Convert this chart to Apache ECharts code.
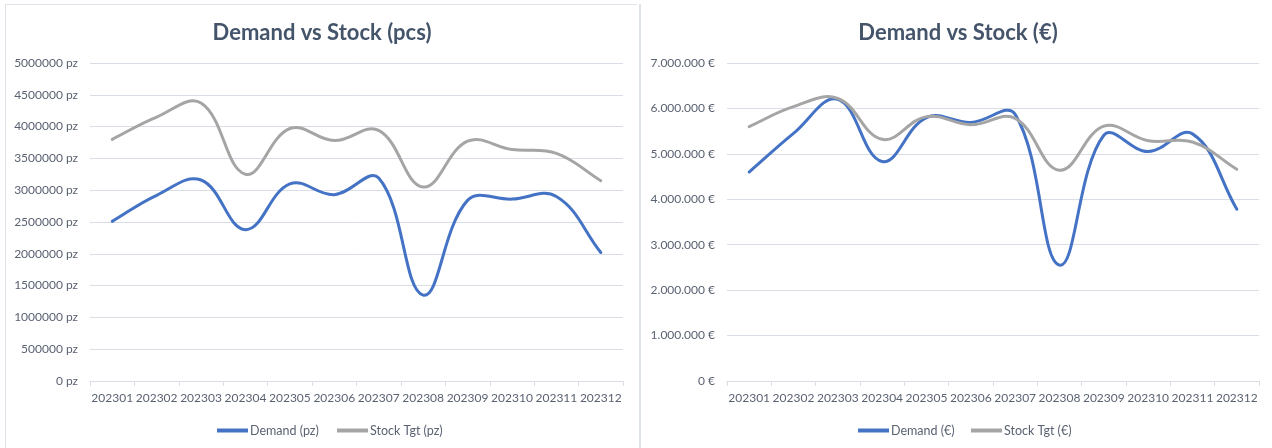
<!DOCTYPE html>
<html>
<head>
<meta charset="utf-8">
<script src="https://cdn.jsdelivr.net/npm/echarts@6/dist/echarts.min.js"></script>
<style>
  html, body { margin: 0; padding: 0; background: #ffffff; }
  #chart { width: 1272px; height: 448px; }
</style>
</head>
<body>
<div id="chart"></div>
<script>
// Monthly periods shown on both charts
const months = ['202301', '202302', '202303', '202304', '202305', '202306',
                '202307', '202308', '202309', '202310', '202311', '202312'];

// Quantities (pieces)
const demandPcs = [2510000, 2920000, 3160000, 2380000, 3100000, 2930000,
                   3190000, 1350000, 2840000, 2860000, 2900000, 2020000];
const stockPcs  = [3800000, 4150000, 4370000, 3250000, 3970000, 3780000,
                   3940000, 3050000, 3770000, 3640000, 3580000, 3150000];

// Values (euro)
const demandEur = [4600000, 5450000, 6200000, 4830000, 5800000, 5690000,
                   5870000, 2550000, 5410000, 5050000, 5440000, 3780000];
const stockEur  = [5600000, 6040000, 6220000, 5320000, 5820000, 5640000,
                   5780000, 4640000, 5610000, 5290000, 5260000, 4660000];

// Axis tick values
const pcsTicks = { min: 0, max: 5000000, interval: 500000 };
const eurTicks = { min: 0, max: 7000000, interval: 1000000 };

const BLUE = '#4472C4';
const GREY = '#A5A5A5';
const TEXT = '#5A6272';
const TITLE = '#44546A';
const GRIDLINE = '#D9DEE6';
const FONT = 'Lato, "Open Sans", sans-serif';
const SMOOTHNESS = 0.4;

function dotThousands(v) {
  return String(Math.round(v)).replace(/\B(?=(\d{3})+(?!\d))/g, '.');
}

function xAxis(gridIndex) {
  return {
    type: 'category', gridIndex: gridIndex, data: months, boundaryGap: true,
    axisLine: { lineStyle: { color: GRIDLINE, width: 1 } },
    axisTick: { show: true, length: 5, lineStyle: { color: GRIDLINE } },
    axisLabel: { color: TEXT, fontFamily: FONT, fontSize: 12, margin: 11, interval: 0 }
  };
}

function yAxis(gridIndex, ticks, fmt) {
  return {
    type: 'value', gridIndex: gridIndex,
    min: ticks.min, max: ticks.max, interval: ticks.interval,
    axisLine: { show: false }, axisTick: { show: false },
    splitLine: { lineStyle: { color: GRIDLINE, width: 1 } },
    axisLabel: { color: TEXT, fontFamily: FONT, fontSize: 12, margin: 12, formatter: fmt }
  };
}

function dist(a, b) {
  return Math.hypot(a[0] - b[0], a[1] - b[1]);
}

// Smoothed line drawn as a Bezier path through the category/value
// coordinates resolved by the axes; tangents are weighted by segment length.
function smoothSeries(name, values, color, axisIndex) {
  return {
    name: name, type: 'custom',
    xAxisIndex: axisIndex, yAxisIndex: axisIndex,
    data: values.map((v, i) => [i, v]),
    encode: { x: 0, y: 1 },
    clip: false,
    itemStyle: { color: color },
    silent: true,
    renderItem: function (params, api) {
      if (params.dataIndex !== 0) return null;
      const pts = values.map((v, i) => api.coord([i, v]));
      const n = pts.length;
      // incoming / outgoing control points for every point
      const cin = [], cout = [];
      for (let i = 0; i < n; i++) {
        const prev = pts[i - 1] || pts[i];
        const next = pts[i + 1] || pts[i];
        const d0 = dist(pts[i], prev), d1 = dist(pts[i], next);
        const sum = d0 + d1 || 1;
        const vx = (next[0] - prev[0]) * SMOOTHNESS;
        const vy = (next[1] - prev[1]) * SMOOTHNESS;
        cin.push([pts[i][0] - vx * d0 / sum, pts[i][1] - vy * d0 / sum]);
        cout.push([pts[i][0] + vx * d1 / sum, pts[i][1] + vy * d1 / sum]);
      }
      let d = 'M' + pts[0][0] + ' ' + pts[0][1];
      for (let i = 0; i < n - 1; i++) {
        d += ' C' + cout[i][0] + ' ' + cout[i][1] + ' ' + cin[i + 1][0] + ' ' + cin[i + 1][1] +
             ' ' + pts[i + 1][0] + ' ' + pts[i + 1][1];
      }
      return {
        type: 'path',
        shape: { pathData: d },
        style: { fill: 'none', stroke: color, lineWidth: 3, lineCap: 'round', lineJoin: 'round' }
      };
    }
  };
}

function legendItem(name, left) {
  return {
    data: [name], left: left, top: 419,
    icon: 'rect', itemWidth: 31, itemHeight: 4,
    textStyle: { color: TEXT, fontFamily: FONT, fontSize: 12.5, padding: [0, 0, 0, -3] }
  };
}

const chart = echarts.init(document.getElementById('chart'), null, { renderer: 'canvas' });
chart.setOption({
  animation: false,
  backgroundColor: '#ffffff',
  graphic: [
    // panel frames
    { type: 'line', shape: { x1: 5, y1: 4.5, x2: 637, y2: 4.5 }, style: { stroke: '#DFE3EA', lineWidth: 1 } },
    { type: 'line', shape: { x1: 5.5, y1: 4, x2: 5.5, y2: 448 }, style: { stroke: '#DFE3EA', lineWidth: 1 } },
    { type: 'line', shape: { x1: 640, y1: 4, x2: 640, y2: 448 }, style: { stroke: '#DFE3EA', lineWidth: 2 } }
  ],
  title: [
    { text: 'Demand vs Stock (pcs)', left: 317, top: 17, textAlign: 'center',
      textStyle: { color: TITLE, fontFamily: FONT, fontSize: 22, fontWeight: 'bold' } },
    { text: 'Demand vs Stock (€)', left: 953, top: 17, textAlign: 'center',
      textStyle: { color: TITLE, fontFamily: FONT, fontSize: 22, fontWeight: 'bold' } }
  ],
  legend: [
    legendItem('Demand (pz)', 212),
    legendItem('Stock Tgt (pz)', 332),
    legendItem('Demand (€)', 853),
    legendItem('Stock Tgt (€)', 966)
  ],
  grid: [
    { left: 90, top: 63, width: 533, height: 318 },
    { left: 727, top: 63, width: 532, height: 318 }
  ],
  xAxis: [xAxis(0), xAxis(1)],
  yAxis: [
    yAxis(0, pcsTicks, v => v + ' pz'),
    yAxis(1, eurTicks, v => dotThousands(v) + ' €')
  ],
  series: [
    smoothSeries('Demand (pz)', demandPcs, BLUE, 0),
    smoothSeries('Stock Tgt (pz)', stockPcs, GREY, 0),
    smoothSeries('Demand (€)', demandEur, BLUE, 1),
    smoothSeries('Stock Tgt (€)', stockEur, GREY, 1)
  ]
});
</script>
</body>
</html>
